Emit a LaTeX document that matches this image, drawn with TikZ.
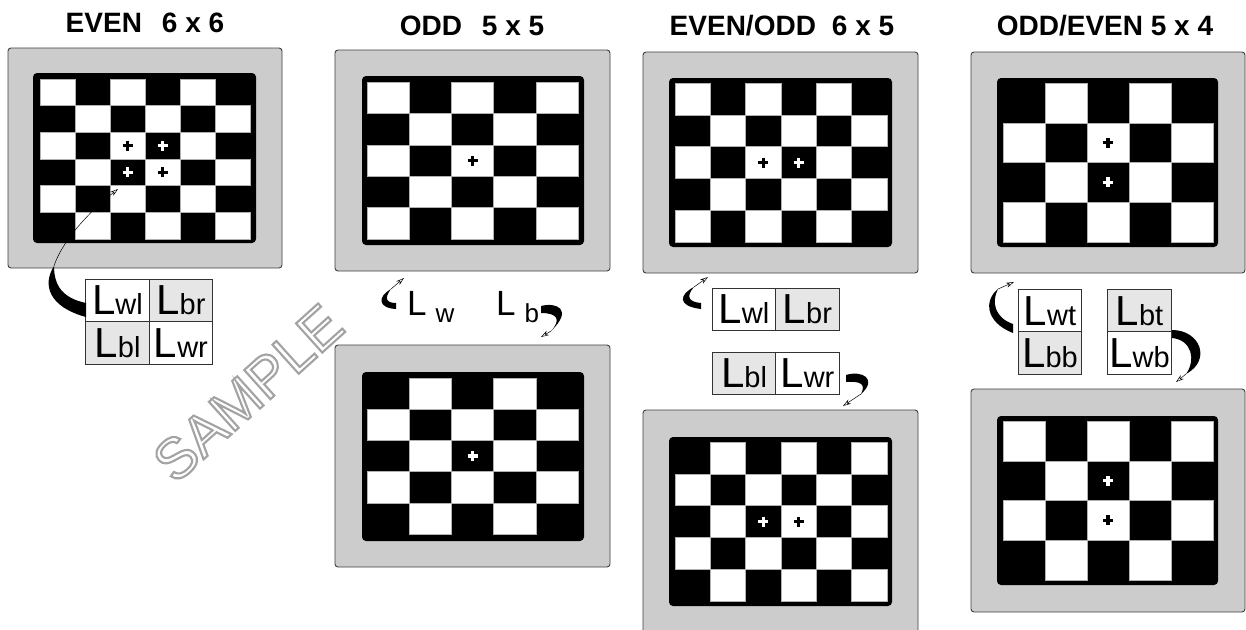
\documentclass[tikz,border=0pt]{standalone}
\usepackage{fontspec}
\setmainfont{Liberation Sans}
\usetikzlibrary{arrows.meta}
\definecolor{frameg}{RGB}{204,204,204}
\definecolor{cellgray}{RGB}{230,230,230}
\tikzset{
 frame/.style={fill=frameg, draw=black!75, line width=0.9pt, rounded corners=3pt},
 innerbd/.style={fill=black, rounded corners=4pt},
 wsq/.style={fill=white, draw=black!30, line width=0.4pt},
 cellw/.style={draw=black!80, line width=0.8pt, fill=white, minimum width=63.4pt, minimum height=42.5pt, inner sep=0pt, outer sep=0pt},
 lcellg/.style={cellw, fill=cellgray},
 title/.style={font=\fontsize{28}{30}\selectfont\bfseries, anchor=base, inner sep=0pt},
 blob/.style={fill=black},
 thinarr/.style={draw, line width=0.5pt, -{Stealth[open,length=8pt,width=5pt]}},
 wmark/.style={rotate=42, font=\fontsize{57}{57}\selectfont, inner sep=0pt},
}
\newcommand\mkboard[7]{%
 \foreach \ci in {1,...,#5}{\foreach \ri in {1,...,#6}{%
   \pgfmathtruncatemacro\sqpar{mod(\ci+\ri+#7,2)}%
   \ifnum\sqpar=0 \path[wsq] ({#1+(\ci-1)*#3},{#2+(\ri-1)*#4}) rectangle ++(#3,#4);\fi
 }}}
\newcommand\mkplus[3]{\draw[#3, line width=3.3pt] (#1-5,#2) -- (#1+5,#2) (#1,#2-5) -- (#1,#2+5);}
\newcommand\lab[1]{{\fontsize{42}{42}\selectfont L}{\fontsize{29}{29}\selectfont #1}}
\newcommand\slab[2]{{\fontsize{35}{35}\selectfont #1}\hspace{9pt}\raisebox{-7pt}{\fontsize{26}{26}\selectfont #2}}
\newcommand\outlinetext[1]{{\color{white}\special{pdf:literal direct 0.64 G 2.1 w 2 Tr}#1\special{pdf:literal direct 0 Tr}}}
\begin{document}
\begin{tikzpicture}[x=1pt,y=-1pt]
\useasboundingbox (0,0) rectangle (1246,629);
\fill[white] (0,0) rectangle (1246,629);

% ---------- Panel 1: EVEN 6 x 6
\node[title] (t1) at (145,32) {EVEN\hspace{20pt}6 x 6};
\path[frame] (8,48) rectangle (282,268);
\path[innerbd] (33,73) rectangle (256,243);
\mkboard{40}{79}{35}{26.67}{6}{6}{0}
\mkplus{127.5}{145.7}{black}
\mkplus{162.5}{145.7}{white}
\mkplus{127.5}{172.3}{white}
\mkplus{162.5}{172.3}{black}
\node[cellw]  (p1wl) at (117.5,300.5) {\lab{wl}};
\node[lcellg] (p1br) at (180.9,300.5) {\lab{br}};
\node[lcellg] (p1bl) at (117.5,343) {\lab{bl}};
\node[cellw]  (p1wr) at (180.9,343) {\lab{wr}};
\coordinate (a1s) at (54,266);
\coordinate (a1t) at (118,189);
\fill[blob] (a1s) .. controls (42,285) and (49,307) .. (86,317) -- (86,303) .. controls (62,298) and (54,285) .. (a1s) -- cycle;
\draw[thinarr] (a1s) .. controls (61,244) and (85,215) .. (a1t);

% ---------- Panel 2: ODD 5 x 5
\node[title] (t2) at (472,35) {ODD\hspace{20pt}5 x 5};
\path[frame] (335,50) rectangle (610,271);
\path[innerbd] (362,76) rectangle (584,245);
\mkboard{367}{82}{42.2}{31.4}{5}{5}{0}
\mkplus{472.5}{160.5}{black}
\node[anchor=base west, inner sep=0pt] (lw) at (407,315) {\slab{L}{w}};
\node[anchor=base west, inner sep=0pt] (lb) at (496,315) {\slab{L}{b}};
\coordinate (c2s) at (391,289);
\coordinate (c2t) at (404,278);
\fill[blob] (c2s) .. controls (377,297) and (378,308) .. (396,309) -- (396,303) .. controls (386,303) and (384,298) .. (c2s) -- cycle;
\draw[thinarr] (c2s) -- (c2t);
\coordinate (c3s) at (551,331);
\coordinate (c3t) at (541,337);
\fill[blob] (541,306) .. controls (556,302) and (574,309) .. (c3s) .. controls (561,320) and (558,313) .. (541,313) -- cycle;
\draw[thinarr] (c3s) -- (c3t);
\path[frame] (335,345) rectangle (610,567);
\path[innerbd] (362,372) rectangle (584,541);
\mkboard{367}{378}{42.2}{31.2}{5}{5}{1}
\mkplus{472.5}{456}{white}

% ---------- Panel 3: EVEN/ODD 6 x 5
\node[title] (t3) at (782,35) {EVEN/ODD\hspace{16pt}6 x 5};
\path[frame] (643,52) rectangle (918,273);
\path[innerbd] (669,78) rectangle (892,247);
\mkboard{675}{83}{35.33}{31.8}{6}{5}{0}
\mkplus{763.3}{162.5}{black}
\mkplus{798.7}{162.5}{white}
\node[cellw]  (p3wl) at (744,309.2) {\lab{wl}};
\node[lcellg] (p3br) at (807.4,309.2) {\lab{br}};
\coordinate (c4s) at (694,287);
\coordinate (c4t) at (708,277);
\fill[blob] (c4s) .. controls (680,294) and (676,306) .. (701,309) -- (701,303) .. controls (688,302) and (686,296) .. (c4s) -- cycle;
\draw[thinarr] (c4s) -- (c4t);
\node[lcellg] (p3bl) at (744,373.3) {\lab{bl}};
\node[cellw]  (p3wr) at (807.4,373.3) {\lab{wr}};
\coordinate (c5s) at (861,394);
\coordinate (c5t) at (843,406);
\fill[blob] (846,375) .. controls (862,370) and (878,379) .. (c5s) .. controls (866,384) and (861,381) .. (846,382) -- cycle;
\draw[thinarr] (c5s) -- (c5t);
\path[frame] (643,410) rectangle (918,635);
\path[innerbd] (669,437) rectangle (892,606);
\mkboard{675}{442}{35.33}{31.8}{6}{5}{1}
\mkplus{763.3}{521.5}{white}
\mkplus{798.7}{521.5}{black}

% ---------- Panel 4: ODD/EVEN 5 x 4
\node[title] (t4) at (1105,35) {ODD/EVEN 5 x 4};
\path[frame] (971,52) rectangle (1245,273);
\path[innerbd] (997,78) rectangle (1218,247);
\mkboard{1003}{83}{42}{39.75}{5}{4}{1}
\mkplus{1108}{142.6}{black}
\mkplus{1108}{182.4}{white}
\node[cellw]  (p4wt) at (1050,311) {\lab{wt}};
\node[lcellg] (p4bb) at (1050,353) {\lab{bb}};
\node[lcellg] (p4bt) at (1139.5,311) {\lab{bt}};
\node[cellw]  (p4wb) at (1139.5,353) {\lab{wb}};
\coordinate (c6s) at (998,289);
\coordinate (c6t) at (1014,282);
\fill[blob] (c6s) .. controls (984,300) and (985,322) .. (1013,333) -- (1013,324) .. controls (995,318) and (991,302) .. (c6s) -- cycle;
\draw[thinarr] (c6s) -- (c6t);
\coordinate (c7s) at (1186,374);
\coordinate (c7t) at (1176,382);
\fill[blob] (1172,330) .. controls (1200,330) and (1212,360) .. (c7s) .. controls (1196,360) and (1192,340) .. (1172,338) -- cycle;
\draw[thinarr] (c7s) -- (c7t);
\path[frame] (971,389) rectangle (1245,612);
\path[innerbd] (997,416) rectangle (1218,585);
\mkboard{1003}{421}{42}{39.75}{5}{4}{0}
\mkplus{1108}{480.6}{white}
\mkplus{1108}{520.4}{black}

% ---------- watermark
\node[wmark] (wm) at (248,393) {\outlinetext{SAMPLE}};
\end{tikzpicture}
\end{document}
